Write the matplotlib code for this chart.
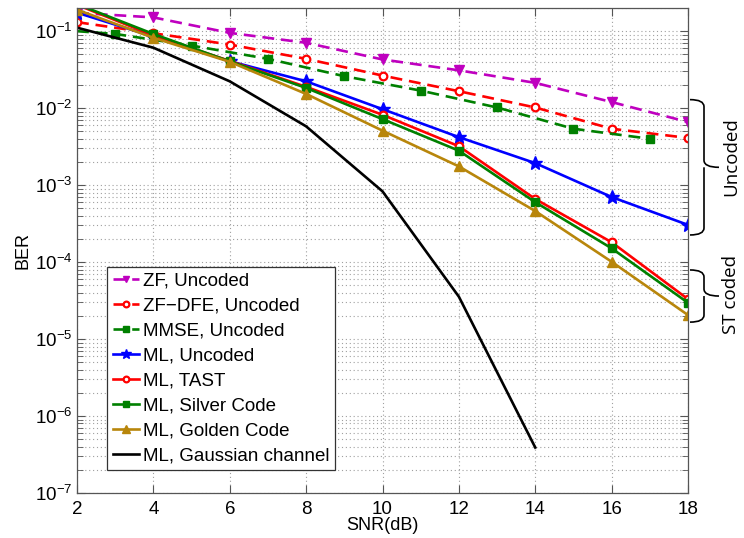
import numpy as np
import matplotlib
matplotlib.use("Agg")
import matplotlib.pyplot as plt
from matplotlib.path import Path
from matplotlib.patches import PathPatch
from matplotlib.ticker import LogLocator, NullFormatter

plt.rcParams['font.family'] = ['Liberation Sans', 'DejaVu Sans']
plt.rcParams['mathtext.fontset'] = 'custom'
plt.rcParams['mathtext.rm'] = 'Liberation Sans'

# SNR grid (dB)
snr = [2, 4, 6, 8, 10, 12, 14, 16, 18]
snr_mmse = [2, 3, 5, 7, 9, 11, 13, 15, 17]
snr_gauss = [2, 4, 6, 8, 10, 12, 14]

# Bit error rates
ber_zf = [0.173, 0.151, 0.095, 0.0706, 0.0429, 0.031, 0.0213, 0.0120, 0.0066]
ber_zfdfe = [0.131, 0.094, 0.067, 0.0437, 0.0265, 0.0166, 0.0102, 0.0054, 0.0041]
ber_mmse = [0.100, 0.092, 0.065, 0.0437, 0.026, 0.0169, 0.0102, 0.0054, 0.0040]
ber_ml = [0.174, 0.085, 0.0407, 0.0223, 0.0097, 0.0042, 0.00193, 7.0e-4, 3.04e-4]
ber_tast = [0.22, 0.088, 0.041, 0.0189, 0.0082, 0.0032, 6.6e-4, 1.81e-4, 3.3e-5]
ber_silver = [0.225, 0.092, 0.0405, 0.0183, 0.0072, 0.0028, 6.0e-4, 1.51e-4, 2.96e-5]
ber_golden = [0.19, 0.082, 0.040, 0.0153, 0.0051, 0.00175, 4.6e-4, 1.01e-4, 2.05e-5]
ber_gauss = [0.111, 0.061, 0.0223, 0.0058, 8.3e-4, 3.55e-5, 3.9e-7]

ber_ticks = [1e-7, 1e-6, 1e-5, 1e-4, 1e-3, 1e-2, 1e-1]

W, H = 744, 538
fig = plt.figure(figsize=(W / 100, H / 100), dpi=100)
ax = fig.add_axes([77 / W, 1 - 493 / H, (688 - 77) / W, (493 - 8) / H])

lw = 1.9
dash = (4.5, 2.6)
c_mag = '#BF00BF'
c_red = '#FF0000'
c_grn = '#008000'
c_blu = '#0000FF'
c_gld = '#B8860B'

ax.plot(snr, ber_zf, color=c_mag, lw=lw, dashes=dash, marker='v', ms=6.5,
        mfc=c_mag, mec=c_mag, label='ZF, Uncoded')
ax.plot(snr, ber_zfdfe, color=c_red, lw=lw, dashes=dash, marker='o', ms=5.5,
        mfc='white', mec=c_red, mew=1.6, label='ZF\u2212DFE, Uncoded')
ax.plot(snr_mmse, ber_mmse, color=c_grn, lw=lw, dashes=dash, marker='s', ms=5.5,
        mfc=c_grn, mec=c_grn, markevery=list(range(1, len(snr_mmse))),
        label='MMSE, Uncoded')
ax.plot(snr, ber_ml, color=c_blu, lw=lw, marker='*', ms=10,
        mfc=c_blu, mec=c_blu, label='ML, Uncoded')
ax.plot(snr, ber_tast, color=c_red, lw=lw, marker='o', ms=5.5,
        mfc='white', mec=c_red, mew=1.6, label='ML, TAST')
ax.plot(snr, ber_silver, color=c_grn, lw=lw, marker='s', ms=5.5,
        mfc=c_grn, mec=c_grn, label='ML, Silver Code')
ax.plot(snr, ber_golden, color=c_gld, lw=lw, marker='^', ms=7,
        mfc=c_gld, mec=c_gld, label='ML, Golden Code')
ax.plot(snr_gauss, ber_gauss, color='black', lw=lw, label='ML, Gaussian channel')

ax.set_yscale('log')
ax.set_xlim(2, 18)
ax.set_ylim(1e-7, 0.2)
ax.set_xticks(np.arange(2, 19, 2))
ax.set_yticks(ber_ticks)
ax.yaxis.set_minor_locator(LogLocator(base=10, subs=np.arange(2, 10), numticks=20))
ax.yaxis.set_minor_formatter(NullFormatter())

grid_kw = dict(color='#a0a0a0', linestyle=(0, (1, 2.5)), linewidth=0.8)
ax.grid(True, which='major', axis='both', **grid_kw)
ax.grid(True, which='minor', axis='y', **grid_kw)
ax.set_axisbelow(True)

ax.tick_params(which='both', direction='in', top=True, right=True,
               colors='#555555', labelcolor='black', labelsize=13.5)
ax.tick_params(axis='x', pad=6)
ax.tick_params(which='major', length=6)
ax.tick_params(which='minor', length=4)
for s in ax.spines.values():
    s.set_color('#555555')
    s.set_linewidth(0.9)

ax.set_xlabel('SNR(dB)', fontsize=13, labelpad=-1)
ax.set_ylabel('BER', fontsize=13, labelpad=2)

leg = ax.legend(loc='upper left', bbox_to_anchor=(0.049, 0.466), borderaxespad=0,
                fontsize=13.5, frameon=True, fancybox=False, framealpha=1,
                edgecolor='#333333', handlelength=1.4, handletextpad=0.2,
                labelspacing=0.42, borderpad=0.3, markerscale=0.75)
leg.get_frame().set_linewidth(0.9)


def brace(y_top, y_bot, x0=690, xv=704, xt=719, r=7):
    """Right-facing curly brace between two BER values, in pixel x positions."""
    tr = ax.transData
    ytp = tr.transform((2, y_top))[1]
    ybp = tr.transform((2, y_bot))[1]
    ym = 0.5 * (ytp + ybp)
    verts = [
        (x0, ytp), (xv, ytp), (xv, ytp - r),
        (xv, ym + r),
        (xv, ym), (xt, ym),
        (xv, ym), (xv, ym - r),
        (xv, ybp + r),
        (xv, ybp), (x0, ybp),
    ]
    codes = [Path.MOVETO, Path.CURVE3, Path.CURVE3,
             Path.LINETO,
             Path.CURVE3, Path.CURVE3,
             Path.MOVETO, Path.CURVE3,
             Path.LINETO,
             Path.CURVE3, Path.CURVE3]
    fig.patches.append(PathPatch(Path(verts, codes), transform=None,
                                 fill=False, lw=1.2, color='black'))


brace(0.0129, 2.25e-4)
brace(7.9e-5, 1.66e-5)
fig.text(731 / W, 1 - 157 / H, 'Uncoded', rotation=90,
         ha='center', va='center', fontsize=13.5, family=['Open Sans', 'DejaVu Sans'])
fig.text(731 / W, 1 - 295 / H, 'ST coded', rotation=90,
         ha='center', va='center', fontsize=13.5, family=['Open Sans', 'DejaVu Sans'])

fig.savefig('out.png', dpi=100)
